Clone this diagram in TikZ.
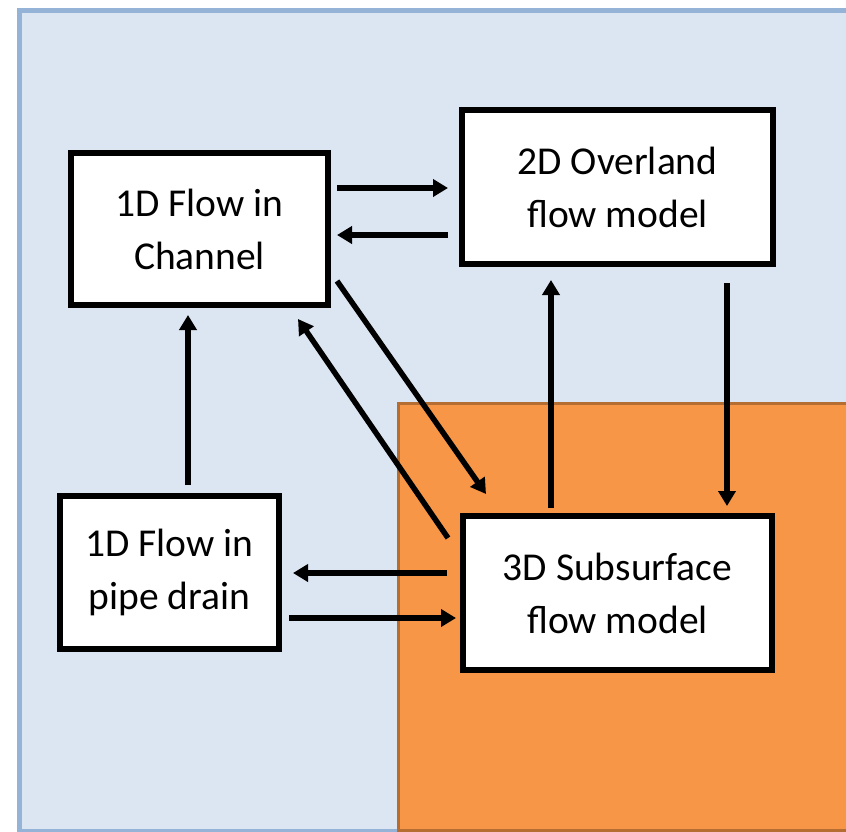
\documentclass[tikz,border=0pt]{standalone}
\usepackage{fontspec}
\setmainfont{Carlito}
\usetikzlibrary{arrows.meta,calc}
\definecolor{bgblue}{HTML}{DCE6F2}
\definecolor{bgblueline}{HTML}{95B3D7}
\definecolor{orangefill}{HTML}{F79646}
\definecolor{orangeline}{HTML}{B66D31}
\begin{document}
\begin{tikzpicture}[x=1pt,y=-1pt,
  box/.style={draw=black,line width=6pt,fill=white,align=center,
    font=\fontsize{39.5}{53}\selectfont,inner sep=0pt},
  arr/.style={line width=5.5pt,-{Triangle[length=15pt,width=17pt]}}]
\useasboundingbox (0,0) rectangle (846,831);
\clip (0,0) rectangle (846,831);
\fill[white] (0,0) rectangle (846,831);
\draw[bgblueline,fill=bgblue,line width=5pt] (19.5,10.5) rectangle (880,831.5);
\draw[orangeline,fill=orangefill,line width=3pt] (398.5,403.5) rectangle (880,830.5);

\node[box,minimum width=257pt,minimum height=152pt] (b1) at (199.5,229) {1D Flow in\\Channel};
\node[box,minimum width=311pt,minimum height=154pt] (b2) at (617.5,187) {2D Overland\\flow model};
\node[box,minimum width=309pt,minimum height=154pt] (b3) at (617.5,593) {3D Subsurface\\flow model};
\node[box,minimum width=219pt,minimum height=153pt] (b4) at (169.5,572.5) {1D Flow in\\pipe drain};

% 1D channel <-> 2D overland
\draw[arr] ($(b1.north east)+(6,38)$) -- ($(b2.north west)+(-11,81)$);
\draw[arr] ($(b2.north west)+(-11,128)$) -- ($(b1.north east)+(6,85)$);
% 1D channel <-> 3D subsurface
\draw[arr] ($(b1.south east)+(6,-27)$) -- ($(b3.north west)+(26,-19)$);
\draw[arr] ($(b3.north west)+(-12,25)$) -- ($(b1.south east)+(-33,11)$);
% 3D subsurface <-> 2D overland
\draw[arr] ($(b3.north west)+(91,-5)$) -- ($(b2.south west)+(92,13)$);
\draw[arr] ($(b2.south west)+(268,16)$) -- ($(b3.north west)+(267,-7)$);
% pipe drain -> channel
\draw[arr] ($(b4.north west)+(131,-8)$) -- ($(b1.south west)+(120,7)$);
% 3D subsurface <-> pipe drain
\draw[arr] ($(b3.north west)+(-13,60)$) -- ($(b4.north east)+(11,80)$);
\draw[arr] ($(b4.north east)+(7,125)$) -- ($(b3.north west)+(-4,105)$);
\end{tikzpicture}
\end{document}
